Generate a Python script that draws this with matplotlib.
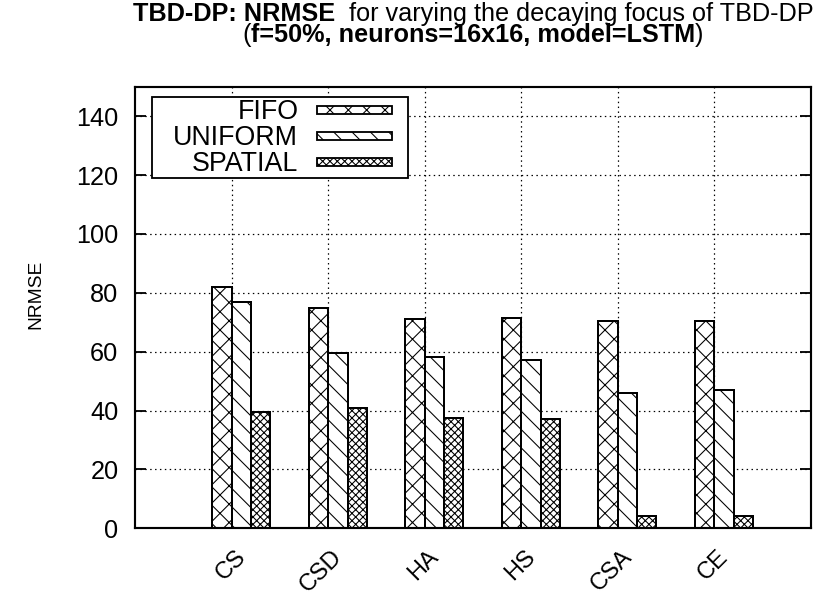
import matplotlib
matplotlib.use("Agg")
import matplotlib.pyplot as plt
from matplotlib.patches import Rectangle
from matplotlib.legend_handler import HandlerPatch
import numpy as np

plt.rcParams['font.family'] = ['Liberation Sans', 'DejaVu Sans']
plt.rcParams['hatch.linewidth'] = 0.7

categories = ["CS", "CSD", "HA", "HS", "CSA", "CE"]
series_names = ["FIFO", "UNIFORM", "SPATIAL"]
fifo = [82.0, 75.0, 71.2, 71.4, 70.5, 70.5]
uniform = [76.7, 59.5, 58.3, 57.1, 46.1, 47.0]
spatial = [39.6, 40.8, 37.5, 37.1, 4.2, 4.2]
yticks = [0, 20, 40, 60, 80, 100, 120, 140]

DPI = 110
W, H = 840, 599
fig = plt.figure(figsize=(W / DPI, H / DPI), dpi=DPI)
L, R, T, B = 135.3, 810.7, 86.7, 528.3
ax = fig.add_axes([L / W, 1 - B / H, (R - L) / W, (B - T) / H])


def ax_x(px):
    return (px - L) / (R - L)


def ax_y(py):
    return (B - py) / (B - T)


x = np.arange(len(categories))
w = 0.2
hatches = ["xx", "\\\\", "xxxxx"]
bars = []
for k, (vals, h) in enumerate(zip([fifo, uniform, spatial], hatches)):
    b = ax.bar(x + (k - 0.5) * w, vals, width=w, facecolor="white", edgecolor="black",
               hatch=h, linewidth=1.3, zorder=3, label=series_names[k])
    bars.append(b)

ax.set_xlim(-1, 6)
ax.set_ylim(0, 150)
ax.set_yticks(yticks)
ax.set_xticks(x)
ax.set_xticklabels([])
for xi, lab in zip(x, categories):
    ax.text(xi + 0.03, -6, lab, rotation=45, ha="right", va="top", rotation_mode="anchor",
            fontsize=15.5)

ax.tick_params(axis="y", direction="in", length=7, width=1.2, right=True, labelsize=16.5, pad=11)
ax.tick_params(axis="x", length=0)
ax.grid(True, linestyle=(0, (1.2, 2.8)), color="black", linewidth=0.8, zorder=0)
for s in ax.spines.values():
    s.set_linewidth(1.4)
    s.set_zorder(5)

fig.text(36 / W, 1 - 294 / H, "NRMSE", rotation=90, ha="center", va="center", fontsize=12.5)

# two-line title with mixed weight, centred over the axes
cx = (L + R) / 2
fs_t = 16.5


def draw_line(parts, y):
    renderer = fig.canvas.get_renderer()
    texts = [fig.text(0, 1 - y / H, s, fontsize=fs_t, fontweight=wgt, ha="left", va="baseline")
             for s, wgt in parts]
    widths = [t.get_window_extent(renderer).width for t in texts]
    start = cx - sum(widths) / 2
    for t, wd in zip(texts, widths):
        t.set_x(start / W)
        start += wd


draw_line([("TBD-DP: NRMSE", "bold"), ("  for varying the decaying focus of TBD-DP", "normal")], 21)
draw_line([("(", "normal"), ("f=50%, neurons=16x16, model=LSTM", "bold"), (")", "normal")], 42)


class BoxHandler(HandlerPatch):
    def create_artists(self, legend, orig_handle, xdescent, ydescent, width, height, fontsize, trans):
        hh = 8.0 * 72 / DPI
        p = Rectangle((-xdescent, -ydescent + (height - hh) / 2), width, hh,
                      facecolor="white", edgecolor="black", hatch=orig_handle.get_hatch(),
                      linewidth=1.2, transform=trans)
        return [p]


# key frame
key_box = Rectangle((ax_x(152), ax_y(178)), ax_x(408) - ax_x(152), ax_y(97) - ax_y(178),
                    transform=ax.transAxes, facecolor="white", edgecolor="black",
                    linewidth=1.2, zorder=6)
ax.add_patch(key_box)

handles = [b.patches[0] for b in bars]
leg = ax.legend(handles, series_names, loc="upper left",
                bbox_to_anchor=(ax_x(168), ax_y(94)),
                fontsize=17.5, markerfirst=False, handlelength=2.8, handleheight=0.7,
                handletextpad=0.7, labelspacing=0.0, borderpad=0.2, borderaxespad=0,
                frameon=False, handler_map={Rectangle: BoxHandler()})
for t in leg.get_texts():
    t.set_ha("right")
leg.set_zorder(7)

fig.savefig("out.png", dpi=DPI)
